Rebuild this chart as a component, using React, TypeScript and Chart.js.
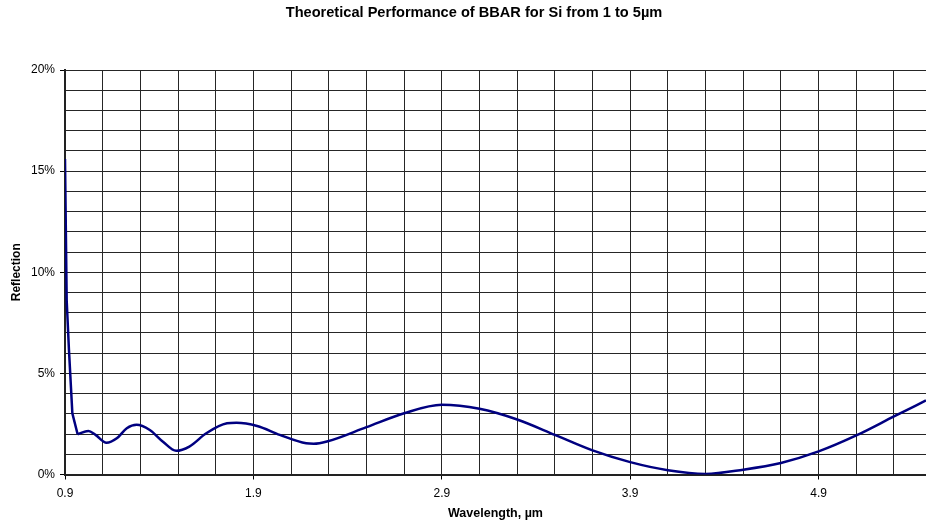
import React, { useEffect, useRef } from 'react';
import { Chart, registerables } from 'chart.js';
Chart.register(...registerables);

const TITLE = 'Theoretical Performance of BBAR for Si from 1 to 5µm';
const X_TITLE = 'Wavelength, µm';
const Y_TITLE = 'Reflection';

// steep start (straight segments), wavelength (µm) and reflection (%)
const startWavelengths = [0.9, 0.909, 0.921, 0.939, 0.967];
const startReflection = [15.6, 8.6, 6.16, 3.03, 1.99];

// smooth remainder, wavelength (µm) and reflection (%)
const wavelengths = [
  0.967, 1.024, 1.062, 1.12, 1.175, 1.228, 1.28, 1.35, 1.42, 1.49,
  1.56, 1.65, 1.76, 1.81, 1.92, 2.04, 2.18, 2.22, 2.29, 2.5, 2.7, 2.9, 3.1, 3.3, 3.5,
  3.7, 3.9, 4.1, 4.3, 4.5, 4.7, 4.9, 5.1, 5.3, 5.47,
];
const reflection = [
  1.99, 2.15, 1.96, 1.57, 1.79, 2.29, 2.46, 2.2, 1.62, 1.17,
  1.38, 2.04, 2.53, 2.56, 2.4, 1.96, 1.54, 1.52, 1.63, 2.34, 3.03, 3.45, 3.25, 2.72, 1.96,
  1.19, 0.61, 0.21, 0.03, 0.24, 0.57, 1.14, 1.93, 2.87, 3.66,
];

const X_MIN = 0.9;
const X_MAX = 5.47;
const xGridValues = [
  0.9, 1.1, 1.3, 1.5, 1.7, 1.9, 2.1, 2.3, 2.5, 2.7, 2.9, 3.1, 3.3, 3.5, 3.7, 3.9,
  4.1, 4.3, 4.5, 4.7, 4.9, 5.1, 5.3,
];
const xGridLabels = [
  '0.9', '', '', '', '', '1.9', '', '', '', '', '2.9', '', '', '', '', '3.9',
  '', '', '', '', '4.9', '', '',
];
const yGridValues = [0, 1, 2, 3, 4, 5, 6, 7, 8, 9, 10, 11, 12, 13, 14, 15, 16, 17, 18, 19, 20];
const yLabelValues = [0, 5, 10, 15, 20];

const FONT = "'Liberation Sans', Arial, sans-serif";
const LINE_COLOR = '#000080';

const titlePlugin = {
  id: 'customTitle',
  afterDraw(chart: any) {
    const ctx = chart.ctx;
    ctx.save();
    ctx.font = `bold 14.6px ${FONT}`;
    ctx.fillStyle = '#000';
    ctx.textAlign = 'center';
    ctx.textBaseline = 'alphabetic';
    ctx.fillText(TITLE, 474, 16.5);
    ctx.restore();
  },
};

export default function App() {
  const ref = useRef<HTMLCanvasElement | null>(null);
  useEffect(() => {
    document.body.style.margin = '0';
    const canvas = ref.current;
    if (!canvas) return;
    const chart = new Chart(canvas, {
      type: 'line',
      data: {
        datasets: [
          {
            data: startWavelengths.map((w, i) => ({ x: w, y: startReflection[i] })),
            borderColor: LINE_COLOR,
            borderWidth: 2.5,
            pointRadius: 0,
            fill: false,
            tension: 0,
          },
          {
            data: wavelengths.map((w, i) => ({ x: w, y: reflection[i] })),
            borderColor: LINE_COLOR,
            borderWidth: 2.5,
            pointRadius: 0,
            fill: false,
            cubicInterpolationMode: 'monotone',
          },
        ],
      },
      options: {
        responsive: false,
        animation: false,
        layout: { padding: { top: 70, left: 0, right: 0, bottom: 0 } },
        plugins: {
          legend: { display: false },
          tooltip: { enabled: false },
          title: { display: false },
        },
        scales: {
          x: {
            type: 'linear',
            min: X_MIN,
            max: X_MAX,
            afterBuildTicks: (axis: any) => {
              axis.ticks = xGridValues.map((v) => ({ value: v }));
            },
            afterFit: (axis: any) => {
              axis.height = 48.5;
            },
            ticks: {
              autoSkip: false,
              maxRotation: 0,
              color: '#000',
              padding: 7,
              font: { family: FONT, size: 12 },
              callback: (_v: any, i: number) => xGridLabels[i],
            },
            grid: {
              color: '#262626',
              lineWidth: 1,
              tickLength: 5,
              tickColor: (ctx: any) => (xGridLabels[ctx.index] ? '#000' : 'rgba(0,0,0,0)'),
            },
            border: { color: '#222', width: 2 },
            title: {
              display: true,
              text: X_TITLE,
              color: '#000',
              font: { family: FONT, size: 12.5, weight: 'bold' },
              padding: { top: 0, bottom: 2 },
            },
          },
          y: {
            type: 'linear',
            min: 0,
            max: 20,
            afterBuildTicks: (axis: any) => {
              axis.ticks = yGridValues.map((v) => ({ value: v }));
            },
            afterFit: (axis: any) => {
              axis.width = 65;
            },
            ticks: {
              autoSkip: false,
              color: '#000',
              padding: 5,
              font: { family: FONT, size: 12 },
              callback: (v: any) => (yLabelValues.includes(v) ? v + '%' : ''),
            },
            grid: {
              color: '#262626',
              lineWidth: 1,
              tickLength: 5,
              tickColor: (ctx: any) =>
                ctx.tick && yLabelValues.includes(ctx.tick.value) ? '#000' : 'rgba(0,0,0,0)',
            },
            border: { color: '#222', width: 2 },
            title: {
              display: true,
              text: Y_TITLE,
              color: '#000',
              font: { family: FONT, size: 12, weight: 'bold' },
              padding: { top: 9, bottom: 0 },
            },
          },
        },
      },
      plugins: [titlePlugin],
    } as any);
    return () => chart.destroy();
  }, []);
  return (
    <div style={{ position: 'relative', width: 926, height: 523, background: '#fff' }}>
      <canvas ref={ref} width={926} height={523} />
    </div>
  );
}
